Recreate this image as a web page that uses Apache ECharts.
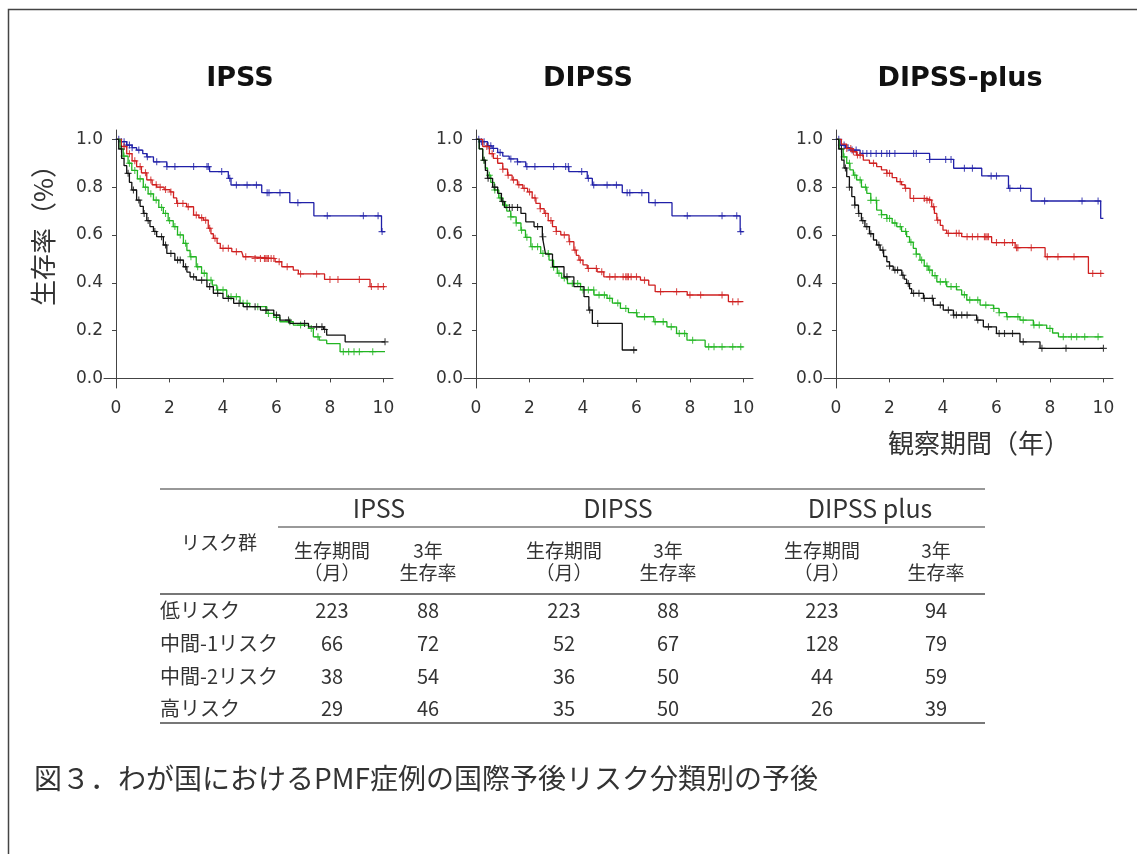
<!DOCTYPE html>
<html><head><meta charset="utf-8">
<script src="https://cdn.jsdelivr.net/npm/echarts@6/dist/echarts.min.js"></script>
<style>html,body{margin:0;padding:0;background:#fff}#c{width:1137px;height:854px}</style>
</head><body><div id="c"></div>
<script>
// ---------- DATA ----------
const panelTitles = ['IPSS', 'DIPSS', 'DIPSS-plus'];
const xTicks = [0, 2, 4, 6, 8, 10];
const yTicks = [0, 0.2, 0.4, 0.6, 0.8, 1.0];
const groupNames = ['低リスク', '中間-1リスク', '中間-2リスク', '高リスク'];

// IPSS  [time(years), survival]
const ipssLow = [[0,1],[0.15,0.99],[0.4,0.976],[0.6,0.965],[0.77,0.955],[1.0,0.94],[1.15,0.927],[1.4,0.906],[1.9,0.886],[3.5,0.865],[4.2,0.837],[4.3,0.809],[5.45,0.777],[6.5,0.735],[7.4,0.68],[9.93,0.614],[10.06,0.614]];
const ipssInt1 = [[0,1],[0.2,0.97],[0.4,0.94],[0.6,0.91],[0.77,0.886],[0.95,0.86],[1.15,0.83],[1.35,0.81],[1.52,0.8],[1.8,0.79],[2.02,0.78],[2.15,0.755],[2.27,0.732],[2.64,0.718],[2.9,0.683],[3.1,0.672],[3.27,0.662],[3.45,0.628],[3.55,0.605],[3.64,0.586],[3.78,0.565],[3.9,0.544],[4.33,0.53],[4.7,0.523],[4.76,0.509],[5.0,0.502],[5.95,0.488],[6.2,0.467],[6.63,0.453],[6.82,0.437],[7.8,0.414],[9.5,0.384],[10.06,0.384]];
const ipssInt2 = [[0,1],[0.15,0.96],[0.27,0.93],[0.45,0.9],[0.59,0.87],[0.8,0.835],[1.02,0.8],[1.2,0.772],[1.4,0.746],[1.6,0.715],[1.77,0.69],[1.95,0.66],[2.14,0.635],[2.3,0.6],[2.52,0.565],[2.65,0.535],[2.77,0.509],[3.0,0.467],[3.2,0.44],[3.4,0.411],[3.6,0.39],[3.77,0.37],[4.14,0.342],[4.64,0.314],[5.0,0.3],[5.64,0.272],[5.9,0.255],[6.13,0.237],[6.63,0.223],[7.2,0.209],[7.38,0.174],[7.6,0.16],[7.88,0.146],[8.38,0.112],[10.06,0.112]];
const ipssHigh = [[0,1],[0.1,0.96],[0.21,0.92],[0.3,0.89],[0.4,0.858],[0.5,0.82],[0.59,0.788],[0.77,0.746],[0.9,0.72],[1.02,0.69],[1.15,0.66],[1.27,0.635],[1.4,0.615],[1.52,0.593],[1.77,0.558],[1.9,0.523],[2.2,0.495],[2.52,0.467],[2.65,0.445],[2.77,0.425],[3.0,0.411],[3.4,0.384],[3.64,0.356],[4.0,0.335],[4.4,0.314],[4.76,0.3],[5.4,0.286],[5.9,0.265],[6.13,0.244],[6.5,0.23],[7.2,0.216],[7.76,0.205],[7.88,0.181],[8.57,0.153],[10.06,0.153]];
const ipssLowCens = [0.1,0.2,0.3,0.4,0.5,0.6,0.85,1.17,1.52,1.9,2.2,2.9,3.4,3.45,3.95,4.25,4.5,4.9,5.25,5.65,5.72,6.13,6.8,7.9,9.25,9.8,9.95];
const ipssInt1Cens = [0.3,0.5,0.7,0.9,1.1,1.3,1.5,1.65,1.85,2.05,2.3,2.5,2.7,3.0,3.2,3.35,3.5,3.7,4.0,4.2,4.5,4.85,5.2,5.4,5.55,5.6,5.65,5.7,5.8,5.9,6.1,6.4,6.9,7.5,8.0,8.3,9.1,9.55,9.8,10.0];
const ipssInt2Cens = [0.3,0.5,0.7,0.9,1.1,1.3,1.5,1.7,1.85,2.0,2.2,2.4,2.6,2.8,3.05,3.3,3.55,3.8,4.0,4.3,4.5,4.75,4.9,5.3,5.7,6.0,6.5,6.9,7.3,7.55,8.5,8.7,8.9,9.1,9.6];
const ipssHighCens = [0.2,0.45,0.65,0.85,1.05,1.2,1.45,1.7,1.85,2.05,2.3,2.4,2.6,2.9,3.2,3.5,3.8,4.2,4.6,4.9,5.2,5.6,6.0,6.45,7.05,7.5,7.7,7.8,10.06];

// DIPSS
const dipssLow = [[0,1],[0.15,0.99],[0.43,0.973],[0.6,0.962],[0.81,0.945],[1.0,0.93],[1.24,0.918],[1.55,0.906],[1.86,0.886],[3.47,0.865],[4.16,0.837],[4.35,0.809],[5.47,0.777],[6.46,0.735],[7.33,0.68],[9.88,0.614],[10.0,0.614]];
const dipssInt1 = [[0,1],[0.25,0.97],[0.5,0.94],[0.65,0.92],[0.81,0.9],[1.0,0.875],[1.18,0.85],[1.35,0.83],[1.55,0.81],[1.75,0.795],[1.93,0.78],[2.1,0.755],[2.24,0.732],[2.4,0.71],[2.55,0.69],[2.7,0.66],[2.86,0.635],[3.0,0.615],[3.17,0.6],[3.48,0.572],[3.66,0.537],[3.75,0.515],[3.85,0.495],[4.0,0.475],[4.16,0.46],[4.53,0.446],[4.78,0.425],[6.15,0.411],[6.46,0.39],[6.7,0.363],[7.9,0.349],[9.44,0.321],[10.0,0.321]];
const dipssInt2 = [[0,1],[0.12,0.96],[0.25,0.913],[0.35,0.88],[0.43,0.85],[0.55,0.82],[0.68,0.788],[0.85,0.755],[1.0,0.725],[1.15,0.7],[1.3,0.676],[1.5,0.65],[1.68,0.62],[1.85,0.59],[2.05,0.551],[2.42,0.523],[2.73,0.495],[2.9,0.465],[3.04,0.44],[3.2,0.42],[3.42,0.397],[3.91,0.37],[4.41,0.349],[4.9,0.335],[5.1,0.315],[5.4,0.293],[5.7,0.275],[6.02,0.258],[6.65,0.237],[7.14,0.216],[7.5,0.188],[7.89,0.16],[8.57,0.132],[10.0,0.132]];
const dipssHigh = [[0,1],[0.12,0.96],[0.25,0.913],[0.35,0.87],[0.43,0.837],[0.62,0.8],[0.81,0.774],[0.95,0.74],[1.06,0.715],[1.68,0.69],[1.86,0.655],[2.17,0.635],[2.48,0.593],[2.55,0.55],[2.6,0.52],[2.86,0.467],[3.29,0.425],[3.66,0.384],[4.04,0.342],[4.22,0.286],[4.35,0.23],[5.47,0.119],[6.02,0.119]];
const dipssLowCens = [0.1,0.2,0.3,0.45,0.55,0.65,0.9,1.3,1.55,1.9,2.2,2.9,3.35,3.45,3.95,4.2,4.4,4.9,5.25,5.65,5.75,6.2,6.7,7.9,9.2,9.75,9.9];
const dipssInt1Cens = [0.4,0.6,0.8,1.0,1.2,1.4,1.6,1.8,2.0,2.2,2.4,2.6,2.8,3.0,3.3,3.5,3.7,3.9,4.2,4.5,4.7,5.0,5.2,5.5,5.6,5.65,5.7,5.8,6.0,6.3,6.9,7.5,8.0,8.4,9.2,9.6,9.8];
const dipssInt2Cens = [0.3,0.5,0.7,0.9,1.1,1.3,1.5,1.7,1.9,2.1,2.3,2.5,2.7,2.9,3.1,3.3,3.6,3.8,4.0,4.2,4.4,4.6,4.8,5.0,5.3,5.6,6.0,6.3,6.7,7.0,7.3,7.6,7.8,8.1,8.7,8.9,9.2,9.6,9.9];
const dipssHighCens = [0.3,0.45,0.7,1.0,1.25,1.35,1.55,2.3,2.5,3.4,4.25,4.55,5.9];

// DIPSS-plus
const plusLow = [[0,1],[0.15,0.976],[0.35,0.965],[0.52,0.955],[0.9,0.941],[3.5,0.916],[4.4,0.879],[5.45,0.847],[6.45,0.795],[7.3,0.742],[9.9,0.669],[10.0,0.669]];
const plusInt1 = [[0,1],[0.2,0.98],[0.4,0.962],[0.6,0.948],[0.77,0.934],[1.02,0.913],[1.25,0.9],[1.52,0.886],[1.7,0.872],[1.9,0.858],[2.1,0.84],[2.27,0.823],[2.45,0.81],[2.58,0.795],[2.77,0.753],[3.39,0.746],[3.58,0.718],[3.68,0.69],[3.77,0.662],[3.9,0.64],[4.0,0.62],[4.14,0.607],[4.7,0.593],[5.82,0.568],[6.7,0.547],[7.82,0.509],[9.44,0.439],[10.0,0.439]];
const plusInt2 = [[0,1],[0.12,0.96],[0.27,0.927],[0.4,0.9],[0.52,0.872],[0.65,0.85],[0.77,0.83],[0.95,0.8],[1.15,0.774],[1.3,0.745],[1.52,0.704],[1.7,0.685],[1.9,0.669],[2.1,0.65],[2.27,0.635],[2.45,0.615],[2.64,0.593],[2.75,0.57],[2.89,0.544],[3.0,0.52],[3.14,0.495],[3.3,0.47],[3.45,0.453],[3.6,0.43],[3.77,0.404],[4.14,0.384],[4.51,0.37],[4.7,0.35],[4.89,0.328],[5.39,0.307],[5.89,0.293],[6.1,0.275],[6.38,0.258],[6.88,0.244],[7.38,0.223],[7.88,0.209],[8.1,0.19],[8.32,0.174],[10.0,0.174]];
const plusHigh = [[0,1],[0.1,0.96],[0.21,0.913],[0.3,0.88],[0.4,0.844],[0.5,0.8],[0.59,0.76],[0.7,0.725],[0.84,0.69],[0.95,0.66],[1.08,0.635],[1.25,0.605],[1.4,0.579],[1.52,0.558],[1.65,0.537],[1.78,0.51],[1.9,0.488],[2.0,0.47],[2.14,0.453],[2.46,0.432],[2.55,0.415],[2.64,0.397],[2.75,0.375],[2.83,0.356],[3.27,0.335],[3.64,0.307],[4.01,0.286],[4.39,0.265],[5.26,0.244],[5.51,0.216],[6.0,0.188],[6.88,0.153],[7.63,0.126],[10.0,0.126]];
const plusLowCens = [0.1,0.2,0.3,0.45,0.6,0.75,1.0,1.15,1.3,1.5,1.7,1.9,2.0,2.2,2.9,3.0,3.5,4.1,4.3,4.8,5.1,5.8,6.0,6.5,6.9,7.8,9.2,9.8];
const plusInt1Cens = [0.4,0.55,0.65,0.8,0.9,1.4,1.9,2.0,2.4,2.6,2.9,3.3,3.4,3.5,3.65,3.8,4.2,4.5,4.6,4.9,5.1,5.3,5.55,5.6,5.65,5.7,6.0,6.3,6.6,6.75,6.8,7.3,7.9,8.3,8.9,9.6,9.9];
const plusInt2Cens = [0.3,0.5,0.7,0.9,1.1,1.3,1.5,1.7,1.9,2.0,2.2,2.4,2.6,2.8,3.0,3.2,3.4,3.5,3.7,3.9,4.1,4.3,4.5,4.8,5.0,5.3,5.6,5.9,6.1,6.4,6.8,7.0,7.4,7.6,8.0,8.5,8.8,9.0,9.3,9.8];
const plusHighCens = [0.2,0.35,0.5,0.7,0.85,1.0,1.15,1.3,1.6,1.75,2.0,2.2,2.3,2.5,2.7,2.9,3.1,3.3,3.6,3.9,4.2,4.4,4.5,4.7,4.9,5.3,5.7,6.1,6.3,6.6,7.0,7.7,8.6,10.0];

// Table
const tableHeads = ['IPSS', 'DIPSS', 'DIPSS plus'];
const ipssMonths = [223, 66, 38, 29];
const ipss3yr = [88, 72, 54, 46];
const dipssMonths = [223, 52, 36, 35];
const dipss3yr = [88, 67, 50, 50];
const plusMonths = [223, 128, 44, 26];
const plus3yr = [94, 79, 59, 39];
const caption = '図３．わが国におけるPMF症例の国際予後リスク分類別の予後';

// ---------- BUILD ----------
const colors = ['#2020a8', '#d02020', '#22b522', '#111111'];
const panels = [
  [ipssLow, ipssInt1, ipssInt2, ipssHigh],
  [dipssLow, dipssInt1, dipssInt2, dipssHigh],
  [plusLow, plusInt1, plusInt2, plusHigh]
];
const panelCens = [
  [ipssLowCens, ipssInt1Cens, ipssInt2Cens, ipssHighCens],
  [dipssLowCens, dipssInt1Cens, dipssInt2Cens, dipssHighCens],
  [plusLowCens, plusInt1Cens, plusInt2Cens, plusHighCens]
];
function stepAt(curve, t) {
  let v = curve[0][1];
  for (const p of curve) { if (p[0] <= t) v = p[1]; else break; }
  return v;
}
const gridLefts = [104, 464, 824];
const grids = [], xAxes = [], yAxes = [], series = [];
const axisFont = 'DejaVu Sans';
gridLefts.forEach((l, i) => {
  grids.push({ left: l, top: 130, width: 289, height: 258 });
  xAxes.push({
    type: 'value', gridIndex: i, min: -0.45, max: 10.36,
    axisLine: { show: true, lineStyle: { color: '#444', width: 1 } },
    axisTick: { show: true, customValues: xTicks, length: 4, lineStyle: { color: '#444' } },
    axisLabel: { customValues: xTicks, fontSize: 17, fontFamily: axisFont, color: '#333', margin: 12 },
    splitLine: { show: false }
  });
  yAxes.push({
    type: 'value', gridIndex: i, min: -0.04, max: 1.039,
    axisLine: { show: true, lineStyle: { color: '#444', width: 1 } },
    axisTick: { show: true, customValues: yTicks, length: 4, lineStyle: { color: '#444' } },
    axisLabel: { customValues: yTicks, fontSize: 17, fontFamily: axisFont, color: '#333', margin: 1,
      formatter: v => Number(v).toFixed(1) },
    splitLine: { show: false }
  });
});
const plusPath = 'path://M3,0h1.1v7h-1.1zM0,3h7v1.1h-7z';
panels.forEach((curves, p) => {
  [3, 2, 1, 0].forEach(g => {
    series.push({
      type: 'line', xAxisIndex: p, yAxisIndex: p, data: curves[g], step: 'end',
      showSymbol: false, symbol: 'none', silent: true,
      lineStyle: { color: colors[g], width: 1.3 }, z: 2 + g
    });
    series.push({
      type: 'scatter', xAxisIndex: p, yAxisIndex: p, silent: true,
      data: panelCens[p][g].map(t => [t, stepAt(curves[g], t)]),
      symbol: plusPath, symbolSize: 7,
      itemStyle: { color: colors[g] }, z: 2 + g
    });
  });
});

const jp = '"Noto Sans CJK JP"';
function txt(x, y, text, size, opts) {
  opts = opts || {};
  return {
    type: 'text', x: x, y: y, rotation: opts.rotation || 0, z: 10,
    style: {
      text: text, fill: opts.fill || '#333',
      font: (opts.weight || 'normal') + ' ' + size + 'px ' + (opts.family || jp),
      align: opts.align || 'center', verticalAlign: 'middle',
      textAlign: opts.align || 'center', textVerticalAlign: 'middle'
    }
  };
}
function hline(x1, x2, y, w, c) {
  return { type: 'line', z: 10, shape: { x1: x1, y1: y, x2: x2, y2: y }, style: { stroke: c, lineWidth: w } };
}
const graphics = [];
graphics.push({ type: 'rect', z: 0, shape: { x: 8.5, y: 9.5, width: 1300, height: 1000 }, style: { fill: 'none', stroke: '#444', lineWidth: 1.5 } });
const titleX = [240, 588, 960];
panelTitles.forEach((t, i) => graphics.push(txt(titleX[i], 79, t, 27, { weight: 'bold', family: 'DejaVu Sans', fill: '#111' })));
graphics.push(txt(43, 229, '生存率（%）', 26, { rotation: Math.PI / 2 }));
graphics.push(txt(979, 443, '観察期間（年）', 26));

// table
const headCenters = [379, 618, 870];
const colCenters = [332, 428, 564, 668, 822, 936];
const rowYs = [610, 643, 676, 708];
graphics.push(hline(160, 985, 489, 1.2, '#333'));
tableHeads.forEach((h, i) => graphics.push(txt(headCenters[i], 508, h, 25)));
graphics.push(hline(278, 985, 527, 1.5, '#777'));
graphics.push(txt(219, 543, 'リスク群', 19));
for (let k = 0; k < 3; k++) {
  graphics.push(txt(colCenters[2 * k], 551, '生存期間', 19));
  graphics.push(txt(colCenters[2 * k], 573, '（月）', 19));
  graphics.push(txt(colCenters[2 * k + 1], 551, '3年', 19));
  graphics.push(txt(colCenters[2 * k + 1], 573, '生存率', 19));
}
graphics.push(hline(160, 985, 594, 2.2, '#777'));
const cols = [ipssMonths, ipss3yr, dipssMonths, dipss3yr, plusMonths, plus3yr];
groupNames.forEach((g, r) => {
  graphics.push(txt(160, rowYs[r], g, 20, { align: 'left' }));
  cols.forEach((c, j) => graphics.push(txt(colCenters[j], rowYs[r], String(c[r]), 20)));
});
graphics.push(hline(160, 985, 723, 2.2, '#777'));
graphics.push(txt(34, 778, caption, 28, { align: 'left' }));

const chart = echarts.init(document.getElementById('c'), null, { renderer: 'canvas' });
chart.setOption({
  animation: false,
  backgroundColor: '#fff',
  grid: grids, xAxis: xAxes, yAxis: yAxes, series: series,
  graphic: { elements: graphics }
});
</script></body></html>
